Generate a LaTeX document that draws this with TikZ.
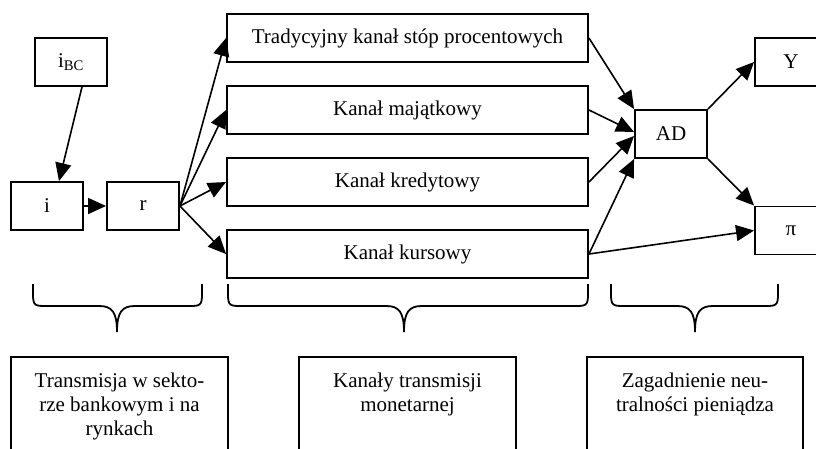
\documentclass[tikz,border=0pt]{standalone}
\usepackage{fontspec}
\setmainfont{Liberation Serif}
\usetikzlibrary{arrows.meta}
\newcommand\mybrace[3]{%
  \draw[bracestyle] (#1,284) -- (#1,294) .. controls (#1,306) and (#1+2,306) .. (#1+14,306)
    -- (#2-18,306) .. controls (#2-5,306) and (#2,312) .. (#2,332)
    .. controls (#2,312) and (#2+5,306) .. (#2+18,306)
    -- (#3-14,306) .. controls (#3-2,306) and (#3,306) .. (#3,294) -- (#3,284);}
\begin{document}
\begin{tikzpicture}[x=1pt,y=-1pt,
  box/.style={draw,line width=1.9pt,minimum width=72pt,minimum height=48pt,inner sep=0pt,font=\fontsize{21}{24}\selectfont},
  chan/.style={box,minimum width=361pt},
  arr/.style={line width=1.6pt,-{Triangle[length=18pt,width=16pt]}},
  bracestyle/.style={line width=1.8pt},
  note/.style={align=center,inner sep=0pt,anchor=north,font=\fontsize{21}{24}\selectfont},
  openbox/.style={line width=1.9pt}]
\useasboundingbox (0,0) rectangle (816,449);
\clip (0,0) rectangle (816,449);
% top row nodes
\node[box] (ibc) at (71,62) {i\textsubscript{BC}};
\node[box] (i) at (47,206) {i};
\node[box] (r) at (143,206) {r};
\node[chan] (k1) at (407.5,38) {Tradycyjny kanał stóp procentowych};
\node[chan] (k2) at (407.5,110) {Kanał majątkowy};
\node[chan] (k3) at (407.5,182) {Kanał kredytowy};
\node[chan] (k4) at (407.5,254) {Kanał kursowy};
\node[box] (ad) at (671,134) {AD};
\node[box] (y) at (791,62) {Y};
\node[box] (pi) at (791,230.5) {π};
% arrows
\draw[arr] ([xshift=11pt]ibc.south) -- ([xshift=12pt]i.north);
\draw[arr] (i.east) -- (r.west);
\draw[arr] (r.east) -- (k1.west);
\draw[arr] (r.east) -- (k2.west);
\draw[arr] (r.east) -- (k3.west);
\draw[arr] (r.east) -- (k4.west);
\draw[arr] (k1.east) -- (ad.north west);
\draw[arr] (k2.east) -- ([yshift=2pt]ad.west);
\draw[arr] (k3.east) -- ([yshift=-2pt]ad.west);
\draw[arr] (k4.east) -- (ad.south west);
\draw[arr] (k4.east) -- (pi.west);
\draw[arr] (ad.north east) -- (y.west);
\draw[arr] (ad.south east) -- (pi.north west);
% braces
\mybrace{33}{117}{202}
\mybrace{228}{404}{588}
\mybrace{611}{695}{778}
% bottom boxes
\node[note] (t1) at (119.5,373) {Transmisja w sekto-\\rze bankowym i na\\rynkach};
\node[note] (t2) at (407.5,373) {Kanały transmisji\\monetarnej};
\node[note] (t3) at (695,373) {Zagadnienie neu-\\tralności pieniądza};
\coordinate (b1a) at (11,460); \coordinate (b1b) at (228,460);
\coordinate (b2a) at (299,460); \coordinate (b2b) at (516,460);
\coordinate (b3a) at (587,460); \coordinate (b3b) at (803,460);
\draw[openbox] (b1a) -- (b1a |- 0,357) -- (b1b |- 0,357) -- (b1b);
\draw[openbox] (b2a) -- (b2a |- 0,357) -- (b2b |- 0,357) -- (b2b);
\draw[openbox] (b3a) -- (b3a |- 0,357) -- (b3b |- 0,357) -- (b3b);
\end{tikzpicture}
\end{document}
